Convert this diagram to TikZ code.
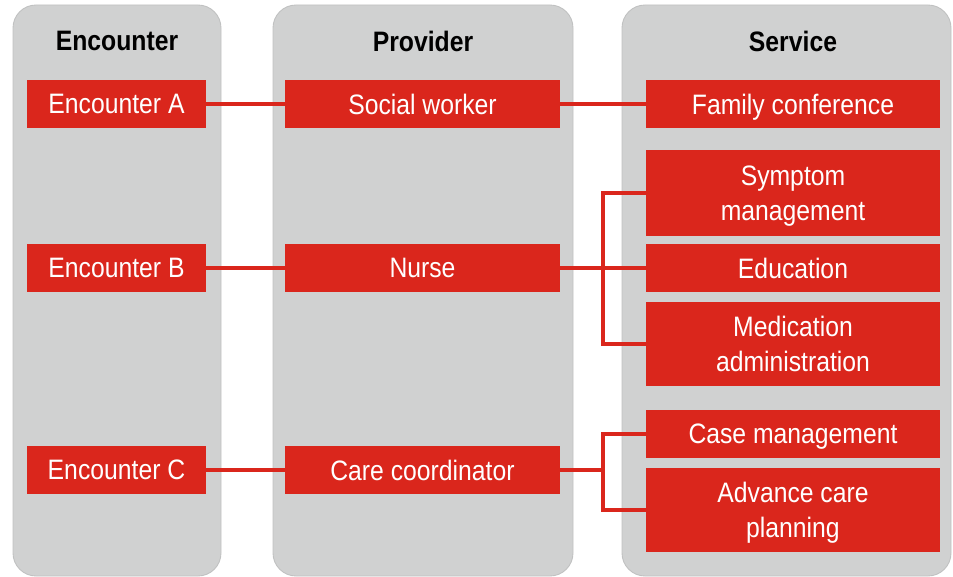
\documentclass[tikz,border=0pt]{standalone}
\usepackage{fontspec}
\setmainfont[FakeStretch=0.88]{Liberation Sans}
\usepackage{tikz}
\definecolor{boxred}{RGB}{218,38,28}
\definecolor{colgray}{RGB}{208,209,209}
\definecolor{colline}{RGB}{192,193,193}
\tikzset{
  column/.style={fill=colgray, draw=colline, line width=0.5pt, rounded corners=0.46cm},
  head/.style={font=\fontsize{16}{19}\selectfont\bfseries, text=black},
  redbox/.style={fill=boxred, text=white, align=center, inner sep=0pt, text depth=0pt,
                 minimum height=0.96cm, font=\fontsize{16}{20}\selectfont},
  link/.style={draw=boxred, line width=2.1pt}
}

\begin{document}
\begin{tikzpicture}[x=0.02cm, y=-0.02cm]
      \useasboundingbox (0,0) rectangle (953,577);
      %%%%%%%%%%%%%%%%%%%%%%%%%%%%%%%%%%%%%%%%%%%%%%%
      \draw[column] (13,5) rectangle (221,576);
      \draw[column] (273,5) rectangle (573,576);
      \draw[column] (622,5) rectangle (951,576);
      \node[head] at (117,41)   (h1) {Encounter};
      \node[head] at (423,41)   (h2) {Provider};
      \node[head] at (793,41)   (h3) {Service};
      %%%%%%%%%%%%%%%%%%%%%%%%%%%%%%%%%%%%%%%%%%%%%%%
      \node[redbox, minimum width=3.58cm] at (116.5,104) (encA) {Encounter A};
      \node[redbox, minimum width=3.58cm] at (116.5,268) (encB) {Encounter B};
      \node[redbox, minimum width=3.58cm] at (116.5,470) (encC) {Encounter C};
      %%%%%%%%%%%%%%%%%%%%%%%%%%%%%%%%%%%%%%%%%%%%%%%
      \node[redbox, minimum width=5.5cm] at (422.5,104) (social) {Social worker};
      \node[redbox, minimum width=5.5cm] at (422.5,268) (nurse)  {Nurse};
      \node[redbox, minimum width=5.5cm] at (422.5,470) (care)   {Care coordinator};
      %%%%%%%%%%%%%%%%%%%%%%%%%%%%%%%%%%%%%%%%%%%%%%%
      \node[redbox, minimum width=5.88cm] at (793,104) (family) {Family conference};
      \node[redbox, minimum width=5.88cm, minimum height=1.72cm] at (793,193) (symptom) {Symptom\\management};
      \node[redbox, minimum width=5.88cm] at (793,268) (educ) {Education};
      \node[redbox, minimum width=5.88cm, minimum height=1.68cm] at (793,344) (medic) {Medication\\administration};
      \node[redbox, minimum width=5.88cm] at (793,434) (casem) {Case management};
      \node[redbox, minimum width=5.88cm, minimum height=1.68cm] at (793,510) (advance) {Advance care\\planning};
      %%%%%%%%%%%%%%%%%%%%%%%%%%%%%%%%%%%%%%%%%%%%%%%
      \coordinate (busB) at (603,268);
      \coordinate (busC) at (603,470);
      \draw[link] (encA) -- (social)
                  (social) -- (family)
                  (encB) -- (nurse)
                  (nurse) -- (educ)
                  (encC) -- (care)
                  (care.east) -- (busC);
      \draw[link] (symptom.west) -| (busB) |- (medic.west);
      \draw[link] (casem.west) -| (busC) |- (advance.west);
    \end{tikzpicture}
\end{document}
